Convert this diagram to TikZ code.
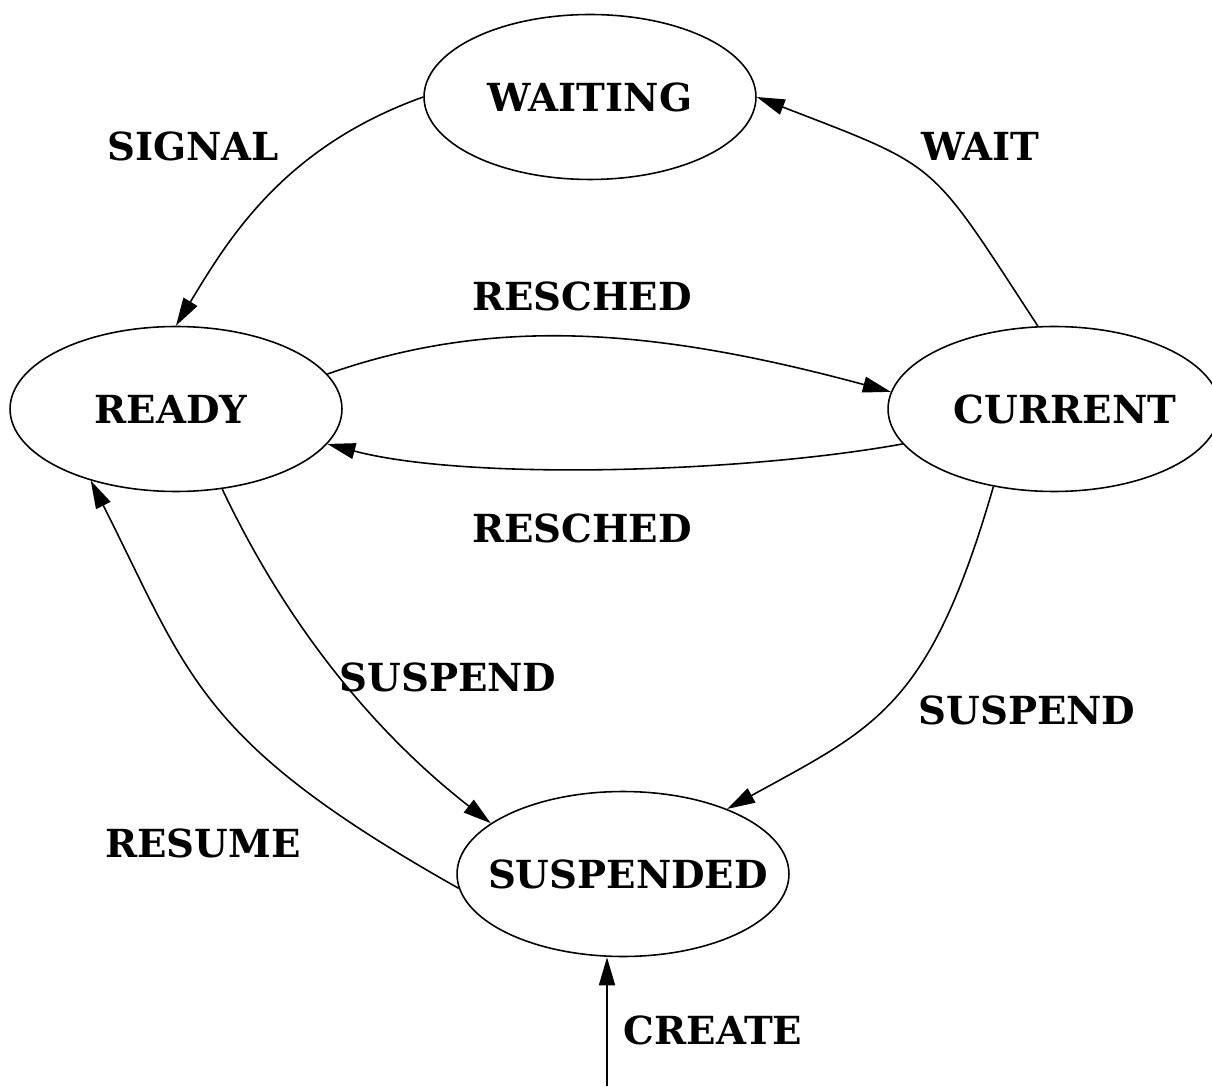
\documentclass[tikz,border=0pt]{standalone}
\usepackage{fontspec}
\setmainfont{DejaVu Serif}
\usetikzlibrary{arrows.meta,shapes.geometric}

\begin{document}
\begin{tikzpicture}[
    x=0.02cm, y=0.02cm,
    line/.style={line width=0.9pt,-{Triangle[length=0.56cm,width=0.32cm]}},
    state/.style={draw,ellipse,line width=0.9pt,minimum width=6.64cm,minimum height=3.3cm,inner sep=0pt},
    lbl/.style={font=\fontsize{22}{26}\selectfont\bfseries,inner sep=1pt}
]
\useasboundingbox (0,0) rectangle (1212,1086);

\node[state,label={[lbl]center:WAITING}] (waiting) at (590,989) {};
\node[state,label={[lbl,xshift=-0.1cm]center:READY}] (ready) at (176,677) {};
\node[state,label={[lbl,xshift=0.22cm]center:CURRENT}] (current) at (1054,677) {};
\node[state,label={[lbl,xshift=0.1cm]center:SUSPENDED}] (suspended) at (623,212) {};
\coordinate (create) at (607,0);

\draw[line] (waiting.west) .. controls +(-140,-50) and +(52,86) .. (ready.north);
\draw[line] (current.101) .. controls +(-110,168) and +(186,-72) .. (waiting.east);
\draw[line] (ready.13) .. controls +(170,60) and +(-230,62) .. (current.174);
\draw[line] (current.193) .. controls +(-160,-29) and +(140,-37) .. (ready.-13);
\draw[line] (ready.-60) .. controls +(64,-135) and +(-118,92) .. (suspended.159);
\draw[line] (suspended.185) .. controls +(-261,147) and +(99,-196) .. (ready.220);
\draw[line] (current.232) .. controls +(-64,-221) and +(149,82) .. (suspended.32);
\draw[line] (create) -- (create |- suspended.south);

\node[lbl] (lsignal) at (193,940) {SIGNAL};
\node[lbl] (lwait) at (980,940) {WAIT};
\node[lbl] (lreschedup) at (582,790) {RESCHED};
\node[lbl] (lrescheddown) at (582,558) {RESCHED};
\node[lbl] (lsuspendl) at (448,409) {SUSPEND};
\node[lbl] (lsuspendr) at (1027,376) {SUSPEND};
\node[lbl] (lresume) at (203,243) {RESUME};
\node[lbl] (lcreate) at (713,56) {CREATE};

\end{tikzpicture}
\end{document}
